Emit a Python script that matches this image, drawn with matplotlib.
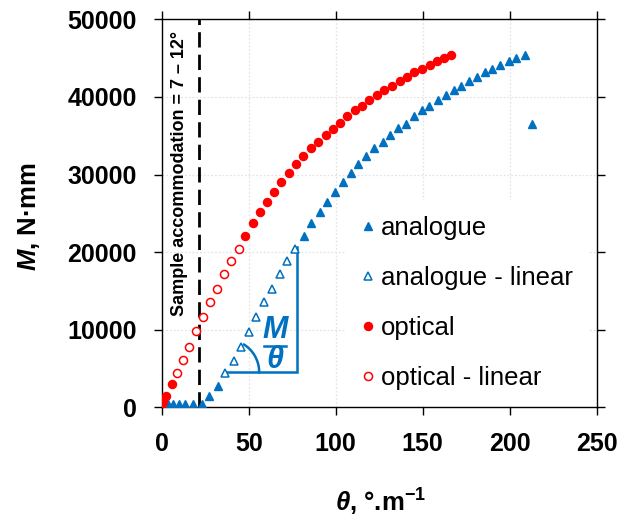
import numpy as np
import matplotlib.pyplot as plt

plt.rcParams["font.family"] = ["Liberation Sans", "DejaVu Sans"]
plt.rcParams["mathtext.fontset"] = "custom"
plt.rcParams["mathtext.rm"] = "Liberation Sans"
plt.rcParams["mathtext.bf"] = "Liberation Sans:bold"
plt.rcParams["mathtext.it"] = "Liberation Sans:italic"
plt.rcParams["mathtext.bfit"] = "Liberation Sans:italic:bold"

BLUE = "#0070C0"
RED = "#FF0000"

# analogue measurements
analogue_x = [3.8, 6.7, 10.2, 13.4, 18.2, 23.1, 27.4, 32.2,
              81.7, 85.9, 90.7, 95.2, 99.5, 104.2, 108.6, 112.8, 117.6, 122.0,
              126.9, 131.2, 135.9, 140.3, 144.7, 149.4, 153.7, 158.6, 163.4,
              167.8, 172.0, 176.8, 181.3, 185.5, 189.9, 194.5, 199.3, 203.7,
              208.5, 212.8]
analogue_y = [420, 420, 420, 420, 420, 480, 1520, 2800,
              22020, 23740, 25110, 26400, 27690, 28980, 30190, 31350, 32430,
              33420, 34140, 35130, 36000, 36550, 37500, 38270, 38880, 39650,
              40300, 40940, 41460, 42100, 42580, 43170, 43610, 44170, 44600,
              45030, 45460, 36550]

# analogue points used for the linear fit
analogue_lin_x = [36.1, 41.3, 45.5, 50.0, 54.4, 59.0, 63.4, 67.8, 72.1, 76.5]
analogue_lin_y = [4390, 6000, 7820, 9760, 11610, 13550, 15220, 17200, 18880, 20380]

# optical measurements
optical_x = [0.0, 1.0, 2.2, 5.8,
             48.0, 52.5, 56.3, 60.5, 64.4, 68.6, 73.0, 76.9, 81.3, 85.5, 89.7,
             94.2, 98.4, 102.4, 106.7, 110.9, 115.3, 119.2, 123.6, 127.8,
             132.6, 136.9, 140.9, 145.1, 149.5, 154.2, 158.2, 162.0, 166.3]
optical_y = [400, 850, 1450, 3000,
             22020, 23800, 25110, 26400, 27690, 28980, 30190, 31350, 32430,
             33420, 34140, 35130, 35900, 36640, 37550, 38270, 38880, 39550,
             40300, 40940, 41460, 42100, 42580, 43170, 43610, 44170, 44600,
             45030, 45460]

# optical points used for the linear fit
optical_lin_x = [9.0, 12.5, 15.7, 19.8, 23.6, 27.9, 31.7, 35.9, 39.8, 44.2]
optical_lin_y = [4390, 6150, 7820, 9780, 11600, 13580, 15200, 17200, 18860, 20380]

accommodation_x = 21.5

fig = plt.figure(figsize=(6.18, 5.18), dpi=100)
ax = fig.add_axes([0.2617, 0.2137, 0.7039, 0.749])

ms = 5.8
ax.plot(analogue_x, analogue_y, "^", color=BLUE, ms=ms, mec=BLUE,
        lw=0, label="analogue", zorder=3)
ax.plot(analogue_lin_x, analogue_lin_y, "^", mfc="white", mec=BLUE, ms=ms,
        mew=1.1, lw=0, label="analogue - linear", zorder=3)
ax.plot(optical_x, optical_y, "o", color=RED, ms=ms, lw=0,
        label="optical", zorder=3)
ax.plot(optical_lin_x, optical_lin_y, "o", mfc="white", mec=RED, ms=ms,
        mew=1.1, lw=0, label="optical - linear", zorder=3)

# accommodation limit
ax.plot([accommodation_x, accommodation_x], [0, 50000], color="black",
        lw=2.0, dashes=(5.5, 2.6), zorder=2)
ax.text(10.1, 30170, "Sample accommodation = 7 – 12°", rotation=90,
        ha="center", va="center", fontsize=13, fontweight="bold")

# slope sketch M/theta
x0, y0 = analogue_lin_x[0] + 1.4, 4520
x1, y1 = analogue_lin_x[-1] + 1.0, 20720
ax.plot([x0, x1, x1], [y0, y0, y1], color=BLUE, lw=1.8, zorder=2,
        solid_joinstyle="miter")
t = np.radians(np.linspace(0, 58, 40))
ax.plot(x0 + 18.5 * np.cos(t), y0 + 4200 * np.sin(t), color=BLUE, lw=1.8,
        zorder=2)
ax.text(65.3, 9900, "M", color=BLUE, fontsize=22, fontweight="bold",
        style="italic", ha="center", va="center")
ax.text(65.3, 6150, "θ", color=BLUE, fontsize=22, fontweight="bold",
        style="italic", ha="center", va="center")
ax.plot([58.6, 71.6], [7950, 7950], color=BLUE, lw=1.8)

ax.set_xlim(0, 250)
ax.set_ylim(0, 50000)
ax.set_xticks([0, 50, 100, 150, 200, 250])
ax.set_yticks([0, 10000, 20000, 30000, 40000, 50000])
ax.tick_params(direction="out", length=6, width=1.0, top=True, right=True,
               labelsize=18, pad=12)
for lbl in ax.get_xticklabels() + ax.get_yticklabels():
    lbl.set_fontweight("bold")
for sp in ax.spines.values():
    sp.set_linewidth(1.0)

ax.grid(True, color="#e4e4e4", lw=0.9, ls=(0, (1.5, 1.5)))
ax.set_axisbelow(True)

ax.set_xlabel(r"$\mathbfit{\theta}$, °.m$^{\mathbf{-1}}$", fontsize=18.5,
              fontweight="bold")
ax.set_ylabel(r"$\mathbfit{M}$, N·mm", fontsize=18.5, fontweight="bold")
ax.xaxis.set_label_coords(0.504, -0.205)
ax.yaxis.set_label_coords(-0.275, 0.493)

leg = ax.legend(loc="upper left", bbox_to_anchor=(0.424, 0.534),
                borderaxespad=0, frameon=True, fancybox=False, fontsize=18.5,
                handlelength=0.5, handletextpad=0.25, borderpad=0.6,
                labelspacing=1.02)
leg.get_frame().set_facecolor("white")
leg.get_frame().set_edgecolor("none")
leg.get_frame().set_alpha(1)

fig.savefig("out.png", dpi=100)
